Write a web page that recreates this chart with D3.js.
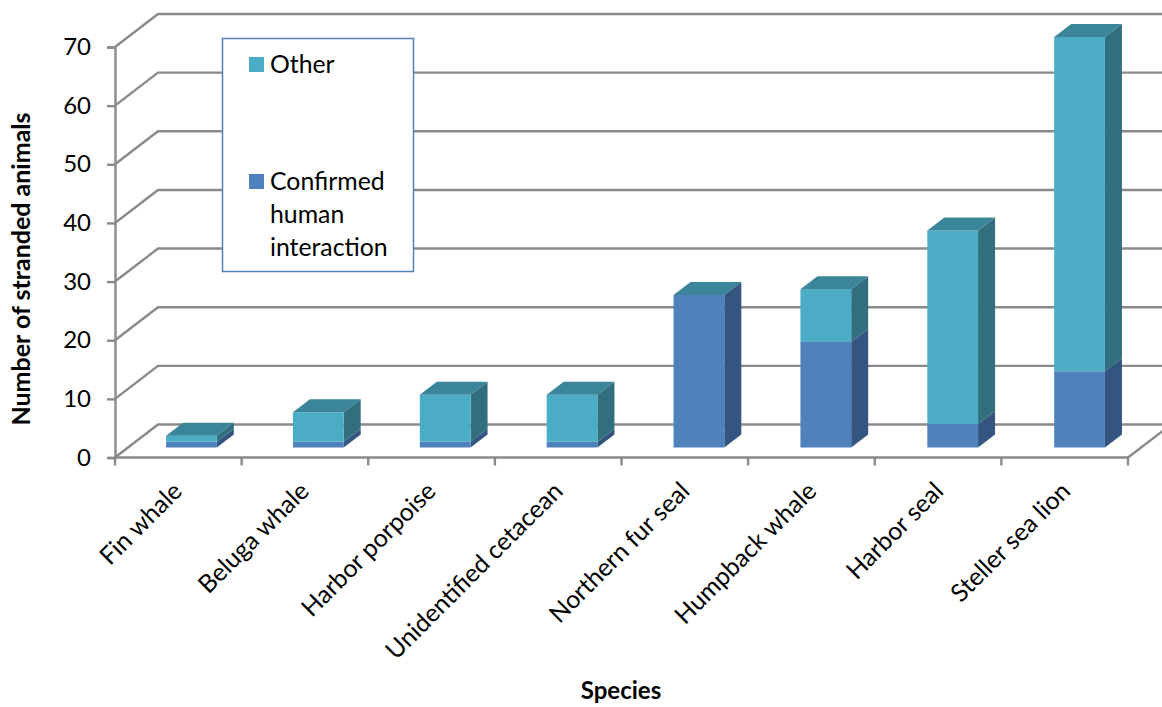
<!DOCTYPE html>
<html>
<head>
<meta charset="utf-8">
<script src="https://cdn.jsdelivr.net/npm/d3@7/dist/d3.min.js"></script>
<style>
html, body { margin: 0; padding: 0; background: #fff; overflow: hidden; }
svg { display: block; font-family: Lato, "Open Sans", sans-serif; }
</style>
</head>
<body>
<svg id="chart" width="1162" height="707"></svg>
<script>
const categories = ["Fin whale", "Beluga whale", "Harbor porpoise", "Unidentified cetacean", "Northern fur seal", "Humpback whale", "Harbor seal", "Steller sea lion"];
const confirmedHuman = [1, 1, 1, 1, 26, 18, 4, 13];
const otherCauses = [1, 5, 8, 8, 0, 9, 33, 57];
const valueTicks = [0, 10, 20, 30, 40, 50, 60, 70];
const seriesKeys = ["confirmed", "other"];
const legendEntries = [
  { key: "other", lines: ["Other"] },
  { key: "confirmed", lines: ["Confirmed", "human", "interaction"] }
];

const faceColors = {
  confirmed: { front: "#4F81BD", side: "#34557F" },
  other: { front: "#4BACC6", side: "#316F7F" }
};
const topColor = "#3A8599";
const gridColor = "#8A8A8A";

// Oblique projection: the wall sits behind the axis plane, bars sit part way in.
const wall = { dx: 43, dy: -33 };
const barInset = { dx: 13, dy: -10 };
const barDepth = { dx: 17, dy: -13 };

const svg = d3.select("#chart");
const axisStart = 115, axisEnd = 1128;
const x = d3.scaleBand().domain(categories).range([axisStart, 1130]).paddingInner(0.6).paddingOuter(0.3);
const y = d3.scaleLinear().domain([0, 70]).range([457.5, 47]);
const edgeStep = (axisEnd - axisStart) / categories.length;
const categoryEdges = d3.range(categories.length + 1).map(i => axisStart + i * edgeStep);

const rows = categories.map((c, i) => ({ category: c, confirmed: confirmedHuman[i], other: otherCauses[i] }));
const stacked = d3.stack().keys(seriesKeys)(rows);

// Back wall gridlines and the slanted floor/side wall lines
const grid = svg.append("g").attr("fill", "none").attr("stroke", gridColor).attr("stroke-width", 2.4);
grid.selectAll("path").data(valueTicks).join("path")
  .attr("d", v => {
    const p = d3.path();
    p.moveTo(axisStart, y(v));
    p.lineTo(axisStart + wall.dx, y(v) + wall.dy);
    p.lineTo(axisEnd + wall.dx, y(v) + wall.dy);
    return p.toString();
  });
grid.append("line")
  .attr("x1", axisEnd).attr("y1", y(0))
  .attr("x2", axisEnd + wall.dx).attr("y2", y(0) + wall.dy);

// Axes
const axisY = svg.append("g")
  .attr("transform", `translate(${axisStart},0)`)
  .call(d3.axisLeft(y).tickValues(valueTicks).tickSize(8).tickPadding(16));
axisY.selectAll(".domain, .tick line").attr("stroke", gridColor).attr("stroke-width", 2.4);
axisY.selectAll("text").attr("font-size", 24).attr("font-family", "Lato").attr("fill", "#000");

const axisX = svg.append("g").attr("transform", `translate(0,${y(0)})`);
axisX.append("line").attr("x1", axisStart).attr("x2", axisEnd)
  .attr("stroke", gridColor).attr("stroke-width", 2.4);
axisX.selectAll(".edge").data(categoryEdges).join("line").attr("class", "edge")
  .attr("x1", d => d).attr("x2", d => d).attr("y1", 0).attr("y2", 8)
  .attr("stroke", gridColor).attr("stroke-width", 2.4);

svg.append("g").selectAll("text").data(categories).join("text")
  .attr("transform", d => `translate(${x(d) + x.bandwidth() / 2 - 1},${y(0) + 29}) rotate(-45)`)
  .attr("text-anchor", "end")
  .attr("dy", "0.35em")
  .attr("font-size", 24.8)
  .attr("fill", "#000")
  .text(d => d);

// Bars: stacked segments with front and side faces, capped by a top face
const point = (px, py) => `${px},${py}`;
const bars = svg.append("g");
stacked.forEach(series => {
  const colors = faceColors[series.key];
  const seg = bars.append("g").selectAll("g")
    .data(series.filter(d => d[1] > d[0]))
    .join("g");
  seg.append("polygon")
    .attr("fill", colors.side)
    .attr("points", d => {
      const right = x(d.data.category) + barInset.dx + x.bandwidth();
      const y0 = y(d[0]) + barInset.dy, y1 = y(d[1]) + barInset.dy;
      return [point(right, y0), point(right + barDepth.dx, y0 + barDepth.dy),
              point(right + barDepth.dx, y1 + barDepth.dy), point(right, y1)].join(" ");
    });
  seg.append("rect")
    .attr("fill", colors.front)
    .attr("x", d => x(d.data.category) + barInset.dx)
    .attr("width", x.bandwidth())
    .attr("y", d => y(d[1]) + barInset.dy)
    .attr("height", d => y(d[0]) - y(d[1]));
});
bars.append("g").selectAll("polygon").data(rows).join("polygon")
  .attr("fill", topColor)
  .attr("points", d => {
    const left = x(d.category) + barInset.dx;
    const right = left + x.bandwidth();
    const top = y(d.confirmed + d.other) + barInset.dy;
    return [point(left, top), point(right, top),
            point(right + barDepth.dx, top + barDepth.dy),
            point(left + barDepth.dx, top + barDepth.dy)].join(" ");
  });

// Axis titles
svg.append("text")
  .attr("x", 621).attr("y", 699)
  .attr("text-anchor", "middle")
  .attr("font-size", 24).attr("font-weight", 700)
  .text("Species");
svg.append("text")
  .attr("transform", "translate(30,269) rotate(-90)")
  .attr("text-anchor", "middle")
  .attr("font-size", 25).attr("font-weight", 700)
  .text("Number of stranded animals");

// Legend panel
const legend = svg.append("g");
legend.append("rect")
  .attr("x", 222.5).attr("y", 38.5).attr("width", 191).attr("height", 233)
  .attr("fill", "#fff").attr("stroke", "#4F81BD").attr("stroke-width", 1.5);
const legendTop = { other: 57, confirmed: 174 };
const items = legend.selectAll(".item").data(legendEntries).join("g").attr("class", "item")
  .attr("transform", d => `translate(249,${legendTop[d.key]})`);
items.append("rect").attr("width", 15).attr("height", 15).attr("fill", d => faceColors[d.key].front);
items.each(function (d) {
  d3.select(this).selectAll("text").data(d.lines).join("text")
    .attr("x", 21)
    .attr("y", (l, i) => 16 + i * 33)
    .attr("font-size", 24.8)
    .attr("fill", "#000")
    .text(l => l);
});
</script>
</body>
</html>
